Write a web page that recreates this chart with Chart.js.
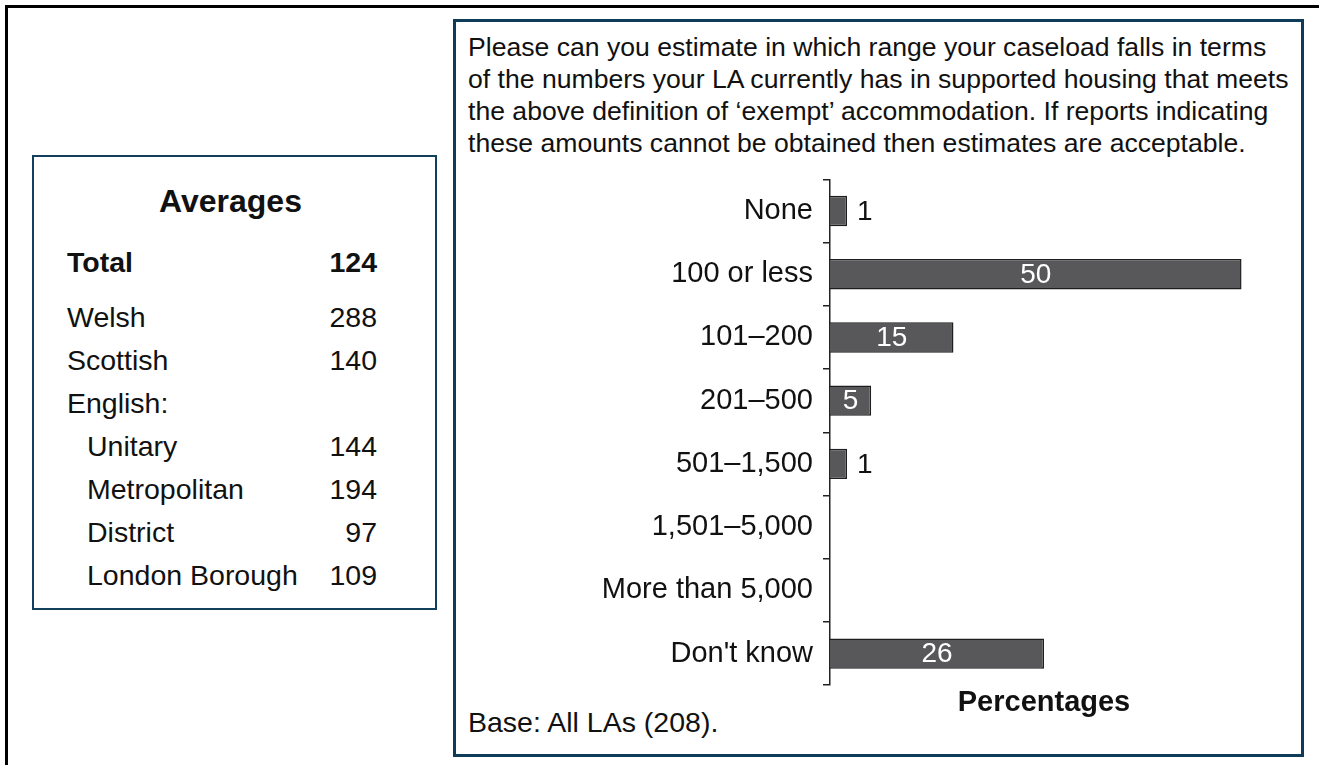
<!DOCTYPE html>
<html>
<head>
<meta charset="utf-8">
<script src="https://cdn.jsdelivr.net/npm/chart.js@4/dist/chart.umd.min.js"></script>
<style>
  body { margin: 0; background: #fff; font-family: "Liberation Sans", Arial, sans-serif; color: #111; }
  #page { position: relative; width: 1319px; height: 765px; overflow: hidden; }
  #frame { position: absolute; left: 5px; top: 5px; width: 1311px; height: 800px;
           border-left: 3px solid #000; border-top: 3px solid #000; border-right: 1px solid #777; }
  #avgBox { position: absolute; left: 32px; top: 155px; width: 405px; height: 455px;
            box-sizing: border-box; border: 2px solid #123f5c; }
  #avgBox div { position: absolute; font-size: 28.5px; line-height: 43px; white-space: nowrap; }
  #avgBox .num { text-align: right; right: 58px; }
  #qBox { position: absolute; left: 453px; top: 19px; width: 851px; height: 738px;
          box-sizing: border-box; border: 3px solid #0e3b57; }
  #question { position: absolute; left: 12px; top: 9px; font-size: 26.6px; line-height: 32px; white-space: nowrap; }
  #base { position: absolute; left: 12px; top: 684px; font-size: 28.5px; line-height: 32px; }
  #chart { position: absolute; left: 560px; top: 152px; }
</style>
</head>
<body>
<div id="page">
  <div id="frame"></div>
  <div id="avgBox"></div>
  <div id="qBox">
    <div id="question">Please can you estimate in which range your caseload falls in terms<br>of the numbers your LA currently has in supported housing that meets<br>the above definition of ‘exempt’ accommodation. If reports indicating<br>these amounts cannot be obtained then estimates are acceptable.</div>
    <div id="base">Base: All LAs (208).</div>
  </div>
  <canvas id="chart" width="720" height="568"></canvas>
</div>
<script>
// caseload ranges and % of LAs
var ranges = ['None', '100 or less', '101–200', '201–500', '501–1,500', '1,501–5,000', 'More than 5,000', "Don't know"];
var percents = [1, 50, 15, 5, 1, null, null, 26];

// averages side panel
var avgLabels = ['Total', 'Welsh', 'Scottish', 'English:', 'Unitary', 'Metropolitan', 'District', 'London Borough'];
var avgValues = ['124', '288', '140', '', '144', '194', '97', '109'];

var box = document.getElementById('avgBox');
var rowTops = [83.5, 138.5, 181.5, 224.5, 267.5, 310.5, 353.5, 396.5];
var title = document.createElement('div');
title.textContent = 'Averages';
title.style.cssText = 'left:0;right:8px;top:22.5px;text-align:center;font-weight:bold;font-size:32px;';
box.appendChild(title);
avgLabels.forEach(function(lab, i) {
    var l = document.createElement('div');
    l.textContent = lab;
    l.style.top = rowTops[i] + 'px';
    l.style.left = (i >= 4 ? 53 : 33) + 'px';
    if (i === 0) l.style.fontWeight = 'bold';
    box.appendChild(l);
    var n = document.createElement('div');
    n.className = 'num';
    n.textContent = avgValues[i];
    n.style.top = rowTops[i] + 'px';
    if (i === 0) n.style.fontWeight = 'bold';
    box.appendChild(n);
});

// draws the value next to / inside each bar
var barLabels = {
    id: 'barLabels',
    afterDatasetsDraw: function(chart) {
        var ctx = chart.ctx;
        var meta = chart.getDatasetMeta(0);
        ctx.save();
        ctx.font = '28px "Liberation Sans", Arial, sans-serif';
        ctx.textBaseline = 'middle';
        meta.data.forEach(function(bar, i) {
            var v = percents[i];
            if (v == null) return;
            if (v >= 5) {
                ctx.fillStyle = '#fff';
                ctx.textAlign = 'center';
                ctx.fillText(v, (bar.base + bar.x) / 2, bar.y + 1);
            } else {
                ctx.fillStyle = '#111';
                ctx.textAlign = 'left';
                ctx.fillText(v, bar.x + 10, bar.y + 1);
            }
        });
        ctx.restore();
    }
};

new Chart(document.getElementById('chart'), {
    type: 'bar',
    data: {
        labels: ranges,
        datasets: [{
            data: percents,
            backgroundColor: '#58585a',
            borderColor: '#1e1e1e',
            borderWidth: 1.5,
            barPercentage: 0.48,
            categoryPercentage: 1,
            minBarLength: 17
        }]
    },
    options: {
        indexAxis: 'y',
        responsive: false,
        animation: false,
        layout: { padding: { top: 11, right: 22, left: 0, bottom: 0 } },
        plugins: { legend: { display: false }, tooltip: { enabled: false } },
        scales: {
            x: {
                min: 0,
                max: 52,
                ticks: { display: false },
                grid: { display: false, drawTicks: false },
                border: { display: false },
                title: {
                    display: true,
                    text: 'Percentages',
                    color: '#111',
                    font: { family: '"Liberation Sans", Arial, sans-serif', size: 29, weight: 'bold' },
                    padding: 0
                }
            },
            y: {
                afterFit: function(scale) { scale.width = 270; },
                ticks: {
                    color: '#111',
                    padding: 10,
                    font: { family: '"Liberation Sans", Arial, sans-serif', size: 29 }
                },
                grid: { offset: true, drawOnChartArea: false, drawTicks: true, tickLength: 7, color: '#222', lineWidth: 1.5 },
                border: { display: true, color: '#222', width: 1.5 }
            }
        }
    },
    plugins: [barLabels]
});
</script>
</body>
</html>
